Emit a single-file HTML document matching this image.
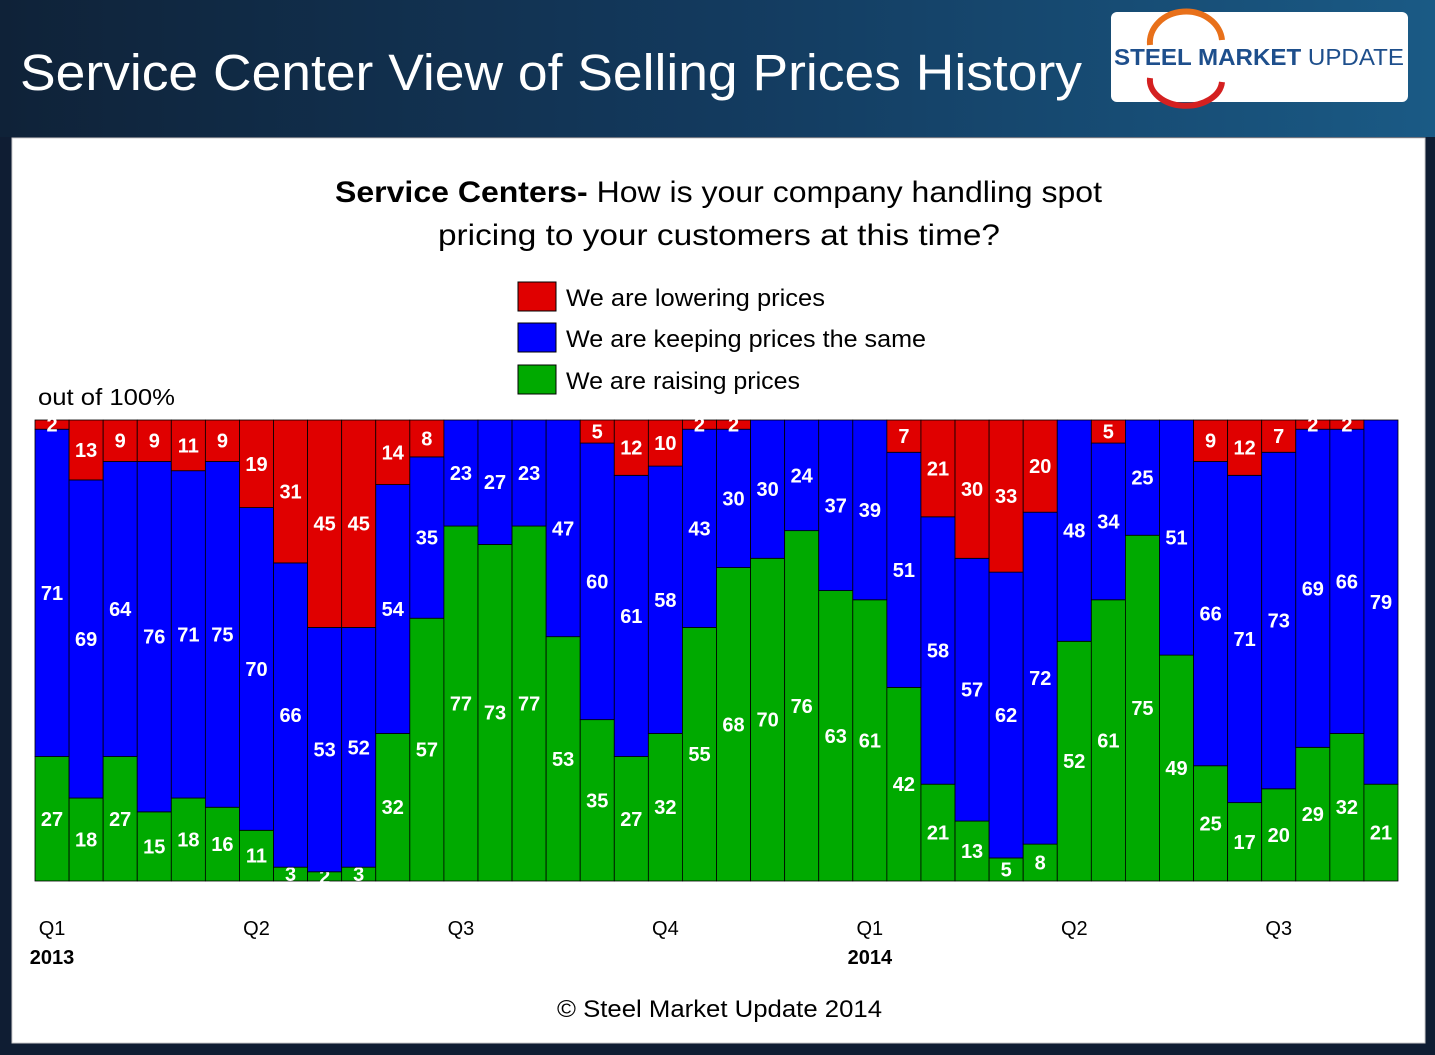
<!DOCTYPE html>
<html><head><meta charset="utf-8"><style>
html,body{margin:0;padding:0;background:#0d1a2e;}
svg{display:block;font-family:"Liberation Sans",sans-serif;}
</style></head><body>
<svg id="chart" width="1435" height="1055" viewBox="0 0 1435 1055">
<defs>
<linearGradient id="hdr" x1="0" y1="0" x2="1" y2="0">
<stop offset="0" stop-color="#0f2238"/><stop offset="0.5" stop-color="#133a5e"/><stop offset="1" stop-color="#1a5a85"/>
</linearGradient>
</defs>
<rect x="0" y="0" width="1435" height="1055" fill="#0f1d33"/>
<rect x="0" y="0" width="1435" height="137" fill="url(#hdr)"/>
<text x="20" y="90" font-size="51" fill="#fff" textLength="1062" lengthAdjust="spacingAndGlyphs">Service Center View of Selling Prices History</text>
<g>
<rect x="1111" y="12" width="297" height="90" rx="6" fill="#fff"/>
<path d="M1150,45 A35,30 0 0 1 1222,40" stroke="#e8701a" stroke-width="6" fill="none"/>
<path d="M1150,78 A35,25 0 0 0 1222,82" stroke="#d42020" stroke-width="6" fill="none"/>
<text x="1114" y="65" font-size="23" font-weight="bold" fill="#1e4f8c" textLength="290" lengthAdjust="spacingAndGlyphs">STEEL MARKET <tspan font-weight="normal">UPDATE</tspan></text>
</g>
<rect x="12" y="138" width="1413" height="905" fill="#fff" stroke="#ccc"/>
<text x="335" y="202" font-size="30" textLength="767" lengthAdjust="spacingAndGlyphs" fill="#000"><tspan font-weight="bold">Service Centers-</tspan> How is your company handling spot</text>
<text x="438" y="245" font-size="30" textLength="562" lengthAdjust="spacingAndGlyphs" fill="#000">pricing to your customers at this time?</text>
<g>
<rect x="518" y="282" width="38" height="29" fill="#e00000" stroke="#000"/>
<text x="566" y="306" font-size="24" textLength="259" lengthAdjust="spacingAndGlyphs">We are lowering prices</text>
<rect x="518" y="323" width="38" height="29" fill="#0000ff" stroke="#000"/>
<text x="566" y="347" font-size="24" textLength="360" lengthAdjust="spacingAndGlyphs">We are keeping prices the same</text>
<rect x="518" y="365" width="38" height="29" fill="#00aa00" stroke="#000"/>
<text x="566" y="389" font-size="24" textLength="234" lengthAdjust="spacingAndGlyphs">We are raising prices</text>
</g>
<text x="38" y="405" font-size="23" textLength="137" lengthAdjust="spacingAndGlyphs">out of 100%</text>
<g id="bars"></g>
<g id="xlabels"></g>
<text x="557" y="1017" font-size="24" textLength="325" lengthAdjust="spacingAndGlyphs">© Steel Market Update 2014</text>
</svg>
<script>
const raising = [27,18,27,15,18,16,11,3,2,3,32,57,77,73,77,53,35,27,32,55,68,70,76,63,61,42,21,13,5,8,52,61,75,49,25,17,20,29,32,21];
const same = [71,69,64,76,71,75,70,66,53,52,54,35,23,27,23,47,60,61,58,43,30,30,24,37,39,51,58,57,62,72,48,34,25,51,66,71,73,69,66,79];
const lowering = [2,13,9,9,11,9,19,31,45,45,14,8,0,0,0,0,5,12,10,2,2,0,0,0,0,7,21,30,33,20,0,5,0,0,9,12,7,2,2,0];
const quarterLabels = ["Q1","Q2","Q3","Q4","Q1","Q2","Q3"];
const yearLabels = ["2013","","","","2014","",""];
const NS="http://www.w3.org/2000/svg";
const L=35,R=1398,T=420,B=881;
const n=raising.length, bw=(R-L)/n;
const y=v=>B-(v/100)*(B-T);
const xs=i=>L+i*bw;
const g=document.getElementById('bars');
function mk(tag,attrs){const e=document.createElementNS(NS,tag);for(const k in attrs)e.setAttribute(k,attrs[k]);return e;}
const series=[["raising",raising,"#00aa00"],["same",same,"#0000ff"],["lowering",lowering,"#e00000"]];
for(let i=0;i<n;i++){
  let base=0;
  for(const [nm,arr,col] of series){
    const v=arr[i];
    if(v>0){
      const r=mk('rect',{x:xs(i),y:y(base+v),width:bw,height:y(base)-y(base+v),fill:col,stroke:"#000","stroke-width":0.8});
      
      
      g.appendChild(r);
      const t=mk('text',{x:xs(i)+bw/2,y:(y(base)+y(base+v))/2+7,"font-size":20,"font-weight":"bold",fill:"#fff","text-anchor":"middle"});
      t.textContent=v;
      
      
      g.appendChild(t);
    }
    base+=v;
  }
}
const xl=document.getElementById('xlabels');
quarterLabels.forEach((q,k)=>{
  const cx=xs(k*6)+bw/2;
  const t=mk('text',{x:cx,y:935,"font-size":20,"text-anchor":"middle"});
  t.textContent=q;
  
  
  xl.appendChild(t);
  if(yearLabels[k]){
    const yt=mk('text',{x:cx,y:964,"font-size":20,"font-weight":"bold","text-anchor":"middle"});
    yt.textContent=yearLabels[k];
    
    
    xl.appendChild(yt);
  }
});
</script>
</body></html>
